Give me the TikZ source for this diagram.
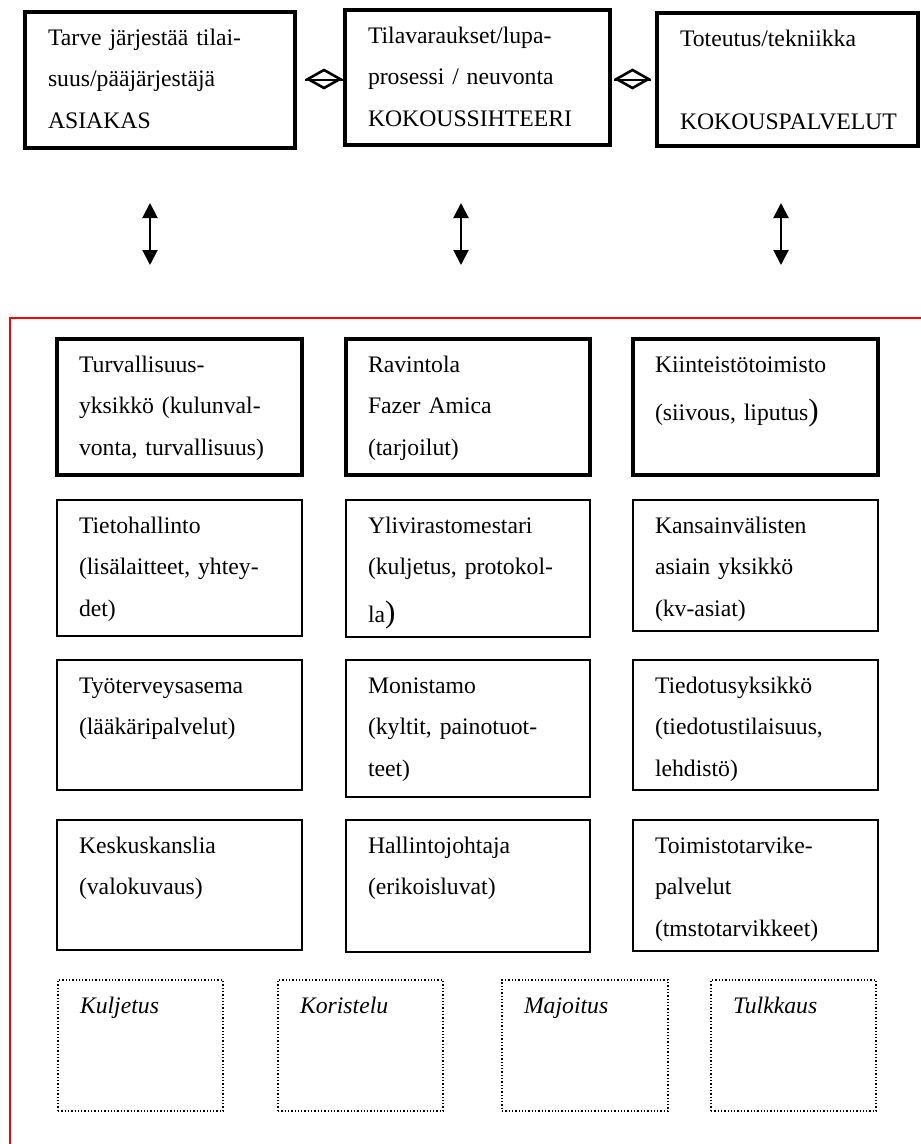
\documentclass[tikz,border=0pt]{standalone}
\usepackage{fontspec}
\setmainfont{Liberation Serif}
\usetikzlibrary{arrows.meta}
\newcommand\pdl{\raggedright\leftskip=22pt\relax}
\newcommand\pdt{\raggedright\leftskip=23pt\relax}
\newcommand\nl{\par}
\newcommand\bigparen{{\fontsize{31}{41.7}\selectfont)}}
\tikzset{
  bx/.style={anchor=north west, inner sep=0pt, outer sep=0pt,
    font=\fontsize{23.7}{41.7}\selectfont, text height=33pt, draw=black},
  topbox/.style={bx, line width=4pt},
  keybox/.style={bx, line width=3.5pt},
  plainbox/.style={bx, line width=2pt},
  dotbox/.style={bx, line width=1.3pt, dotted,
    font=\fontsize{23.7}{41.7}\selectfont\itshape},
  varrow/.style={line width=2pt, {Triangle[length=15pt,width=15pt]}-{Triangle[length=15pt,width=15pt]}},
  diashape/.style={line width=2.6pt, line join=miter},
  diamid/.style={line width=2pt},
  frame/.style={draw=red, line width=2pt}
}
\begin{document}
\begin{tikzpicture}[x=1pt,y=-1pt]
\clip (0,0) rectangle (921,1144);
\fill[white] (0,0) rectangle (921,1144);

% top row
\node[topbox, text width=270pt, text depth=103pt] (asiakas) at (25,12)
  {\pdt Tarve järjestää tilai-\nl suus/pääjärjestäjä\nl ASIAKAS\par};
\node[topbox, text width=265pt, text depth=102pt] (sihteeri) at (345,10)
  {\pdt Tilavaraukset/lupa-\nl prosessi / neuvonta\nl KOKOUSSIHTEERI\par};
\node[topbox, text width=261pt, text depth=100pt] (palvelut) at (657,13)
  {\pdt Toteutus/tekniikka\nl\mbox{}\nl KOKOUSPALVELUT\par};

% diamond connectors
\draw[diamid, shorten <=10pt, shorten >=2pt] (asiakas.east) -- (sihteeri.west |- asiakas.east);
\coordinate (d1) at (324,79);
\draw[diashape] (d1) ++(-16,0) -- ++(16,-9) -- ++(16,9) -- ++(-16,9) -- cycle;
\draw[diamid, shorten <=4pt, shorten >=6pt] (sihteeri.east |- asiakas.east) -- (palvelut.west |- asiakas.east);
\coordinate (d2) at (632.5,79);
\draw[diashape] (d2) ++(-16,0) -- ++(16,-9) -- ++(16,9) -- ++(-16,9) -- cycle;

% vertical arrows
\coordinate (a1t) at (150,203); \coordinate (a1b) at (150,265);
\coordinate (a2t) at (461,203); \coordinate (a2b) at (461,265);
\coordinate (a3t) at (781,203); \coordinate (a3b) at (781,265);
\draw[varrow] (a1t) -- (a1b);
\draw[varrow] (a2t) -- (a2b);
\draw[varrow] (a3t) -- (a3b);

% red frame
\draw[frame] (10,318) rectangle (960,1180);

% row 1
\node[keybox, text width=245pt, text depth=103pt] (turva) at (57,339)
  {\pdl Turvallisuus-\nl yksikkö (kulunval-\nl vonta, turvallisuus)\par};
\node[keybox, text width=244pt, text depth=103pt] (ravintola) at (346,339)
  {\pdl Ravintola\nl Fazer Amica\nl (tarjoilut)\par};
\node[keybox, text width=245pt, text depth=103pt] (kiinteisto) at (633,339)
  {\pdl Kiinteistötoimisto\nl\vspace{7pt}(siivous, liputus\bigparen\par};

% row 2
\node[plainbox, text width=245pt, text depth=103pt] (tieto) at (57,500)
  {\pdl Tietohallinto\nl (lisälaitteet, yhtey-\nl det)\par};
\node[plainbox, text width=244pt, text depth=104pt] (yli) at (346,500)
  {\pdl Ylivirastomestari\nl (kuljetus, protokol-\nl\vspace{6pt}la\bigparen\par};
\node[plainbox, text width=245pt, text depth=98pt] (kv) at (633,500)
  {\pdl Kansainvälisten\nl asiain yksikkö\nl (kv-asiat)\par};

% row 3
\node[plainbox, text width=245pt, text depth=97pt] (tyoterveys) at (57,660)
  {\pdl Työterveysasema\nl (lääkäripalvelut)\par};
\node[plainbox, text width=244pt, text depth=104pt] (monistamo) at (346,660)
  {\pdl Monistamo\nl (kyltit, painotuot-\nl teet)\par};
\node[plainbox, text width=245pt, text depth=97pt] (tiedotus) at (633,660)
  {\pdl Tiedotusyksikkö\nl (tiedotustilaisuus,\nl lehdistö)\par};

% row 4
\node[plainbox, text width=245pt, text depth=97pt] (kanslia) at (57,820)
  {\pdl Keskuskanslia\nl (valokuvaus)\par};
\node[plainbox, text width=244pt, text depth=99pt] (hallinto) at (346,820)
  {\pdl Hallintojohtaja\nl (erikoisluvat)\par};
\node[plainbox, text width=245pt, text depth=98pt] (toimisto) at (633,820)
  {\pdl Toimistotarvike-\nl palvelut\nl (tmstotarvikkeet)\par};

% dotted boxes
\node[dotbox, text width=165pt, text depth=98pt] (kuljetus) at (58,980) {\pdl Kuljetus\par};
\node[dotbox, text width=165pt, text depth=98pt] (koristelu) at (278,980) {\pdl Koristelu\par};
\node[dotbox, text width=166pt, text depth=98pt] (majoitus) at (502,980) {\pdl Majoitus\par};
\node[dotbox, text width=165pt, text depth=98pt] (tulkkaus) at (711,980) {\pdl Tulkkaus\par};
\end{tikzpicture}
\end{document}
